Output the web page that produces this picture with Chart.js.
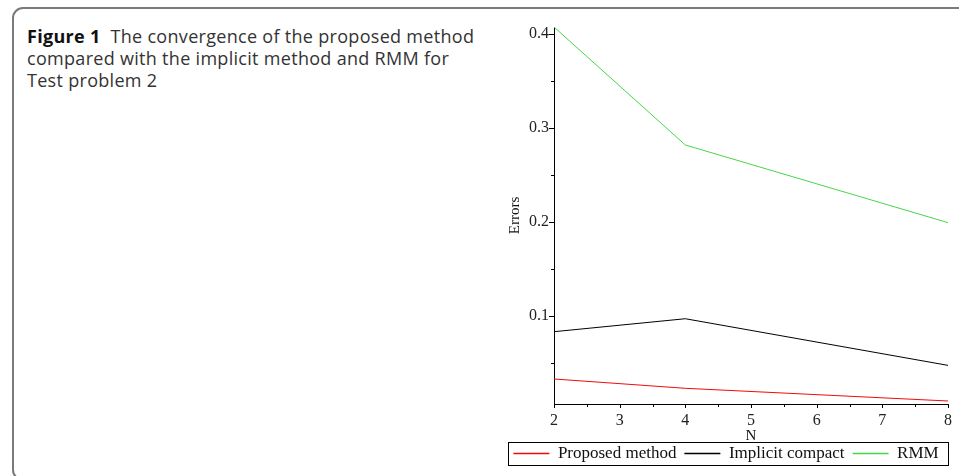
<!DOCTYPE html>
<html>
<head>
<meta charset="utf-8">
<script src="https://cdn.jsdelivr.net/npm/chart.js@4.4.0/dist/chart.umd.min.js"></script>
<style>
html,body{margin:0;padding:0;background:#fff;width:959px;height:476px;overflow:hidden;}
#frame{position:absolute;left:12px;top:7px;width:1000px;height:474px;border:2px solid #7a7a7a;border-radius:11px;box-sizing:border-box;}
#caption{position:absolute;left:27px;top:25px;width:480px;font-family:"Open Sans";font-size:18px;letter-spacing:0.3px;line-height:22px;color:#333;white-space:nowrap;}
#caption b{color:#111;font-weight:700;}
#wrap{position:absolute;left:500px;top:0;width:459px;height:476px;}
</style>
</head>
<body>
<div id="frame"></div>
<div id="caption"><b>Figure 1</b>&nbsp; The convergence of the proposed method<br>compared with the implicit method and RMM for<br>Test problem 2</div>
<div id="wrap"><canvas id="c"></canvas></div>
<script>
// values
const N = [2, 4, 8];
const proposed = [0.0330, 0.0231, 0.0096];
const implicitCompact = [0.0833, 0.0971, 0.0475];
const rmm = [0.4074, 0.2819, 0.1993];
const seriesNames = ["Proposed method", "Implicit compact", "RMM"];
const seriesColors = ["rgb(240,10,10)", "#000000", "rgb(70,215,70)"];

// tick marks (major ones get a label)
const xTicks = [2, 2.5, 3, 3.5, 4, 4.5, 5, 5.5, 6, 6.5, 7, 7.5, 8];
const xLabels = [2, 3, 4, 5, 6, 7, 8];
const yTicks = [0.05, 0.1, 0.15, 0.2, 0.25, 0.3, 0.35, 0.4];
const yLabels = [0.1, 0.2, 0.3, 0.4];

function isLabel(list, v){
  return list.some(l => Math.abs(l - v) < 1e-9);
}

function pts(vals){
  return N.map((n,i) => ({x:n, y:vals[i]}));
}

// small outward tick marks, shorter for the minor ones
const tickMarks = {
  id: "tickMarks",
  afterDatasetsDraw(chart){
    const {ctx, chartArea:a} = chart;
    const x = chart.scales.x, y = chart.scales.y;
    ctx.save();
    ctx.strokeStyle = "#000";
    ctx.lineWidth = 1;
    ctx.beginPath();
    x.ticks.forEach(t => {
      const px = Math.round(x.getPixelForValue(t.value)) + 0.5;
      const len = isLabel(xLabels, t.value) ? 4 : 3;
      ctx.moveTo(px, a.bottom);
      ctx.lineTo(px, a.bottom + len);
    });
    y.ticks.forEach(t => {
      const py = Math.round(y.getPixelForValue(t.value)) + 0.5;
      const len = isLabel(yLabels, t.value) ? 5 : 3;
      ctx.moveTo(a.left, py);
      ctx.lineTo(a.left - len, py);
    });
    ctx.stroke();
    ctx.restore();
  }
};

// frame around the legend
const legendBox = {
  id: "legendBox",
  afterDraw(chart){
    const hb = chart.legend.legendHitBoxes;
    if(!hb || !hb.length) return;
    const last = hb[hb.length-1];
    const l = Math.round(hb[0].left - 5) + 0.5;
    const r = Math.round(last.left + last.width + 9) + 0.5;
    const t = Math.round(hb[0].top - 3) + 0.5;
    const b = Math.round(hb[0].top + hb[0].height + 3) + 0.5;
    const ctx = chart.ctx;
    ctx.save();
    ctx.strokeStyle = "#000";
    ctx.lineWidth = 1;
    ctx.strokeRect(l, t, r - l, b - t);
    ctx.restore();
  }
};

const serif = "'Liberation Serif', 'Times New Roman', serif";

function ds(i, vals){
  const c = seriesColors[i];
  return {label: seriesNames[i], data: pts(vals), borderColor: c, backgroundColor: c,
          pointBorderColor: c, pointBackgroundColor: c};
}

new Chart(document.getElementById("c"), {
  type: "line",
  data: {
    datasets: [ds(0, proposed), ds(1, implicitCompact), ds(2, rmm)]
  },
  options: {
    responsive: true,
    maintainAspectRatio: false,
    animation: false,
    elements: {
      line: {borderWidth: 1, tension: 0},
      point: {radius: 0, borderWidth: 1}
    },
    layout: {padding: {left: 0, right: 7, top: 27, bottom: 4}},
    plugins: {
      tooltip: {enabled: false},
      legend: {
        position: "bottom",
        labels: {
          usePointStyle: true,
          pointStyle: "line",
          pointStyleWidth: 36,
          padding: 8,
          color: "#111",
          font: {family: serif, size: 17},
          generateLabels(chart){
            const items = Chart.defaults.plugins.legend.labels.generateLabels(chart);
            items.forEach((it, i) => {
              it.strokeStyle = seriesColors[i];
              it.fillStyle = seriesColors[i];
              it.lineWidth = 1.5;
              it.pointStyle = "line";
            });
            return items;
          }
        }
      }
    },
    scales: {
      x: {
        type: "linear",
        min: 2, max: 8,
        afterFit(s){ s.height = 33; },
        afterBuildTicks(s){ s.ticks = xTicks.map(v => ({value: v})); },
        grid: {display: false, drawTicks: false, tickLength: 0},
        border: {display: true, color: "#000", width: 1},
        ticks: {
          autoSkip: false, maxRotation: 0, padding: 7,
          color: "#222", font: {family: serif, size: 16},
          callback: v => isLabel(xLabels, v) ? String(v) : ""
        },
        title: {
          display: true, text: "N", color: "#111",
          font: {family: serif, size: 15, lineHeight: 1},
          padding: {top: 0, bottom: -7}
        }
      },
      y: {
        type: "linear",
        min: 0.0064, max: 0.4074,
        afterFit(s){ s.width = 54; },
        afterBuildTicks(s){ s.ticks = yTicks.map(v => ({value: v})); },
        grid: {display: false, drawTicks: false, tickLength: 0},
        border: {display: true, color: "#000", width: 1},
        ticks: {
          padding: 5,
          color: "#222", font: {family: serif, size: 16},
          callback: v => isLabel(yLabels, v) ? v.toFixed(1) : ""
        },
        title: {
          display: true, text: "Errors", color: "#111",
          font: {family: serif, size: 15, lineHeight: 1},
          padding: {top: 8, bottom: 0}
        }
      }
    }
  },
  plugins: [tickMarks, legendBox]
});
</script>
</body>
</html>
